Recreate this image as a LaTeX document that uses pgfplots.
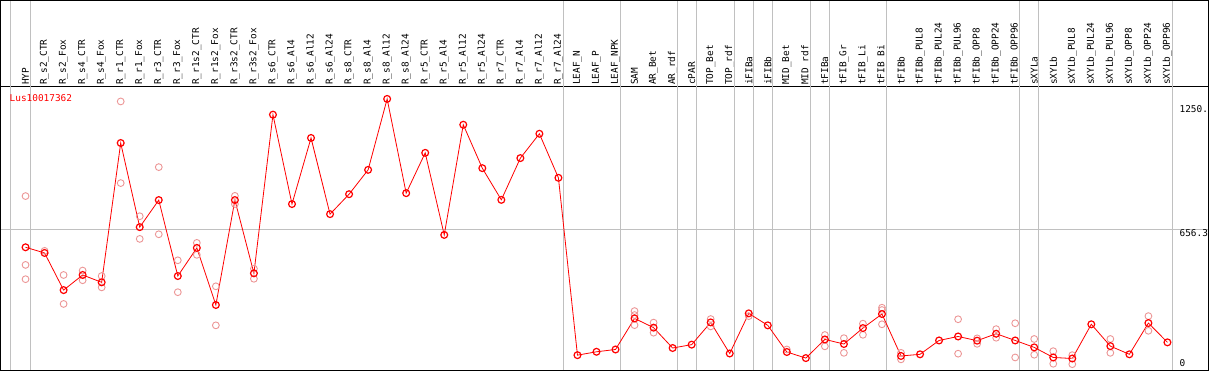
\documentclass[border=0pt]{standalone}
\usepackage{fontspec}
\usepackage{pgfplots}
\pgfplotsset{compat=1.18}
\newfontfamily\pix{DejaVu Sans Mono}
\newcommand{\pixfont}{\pix\fontsize{9.4}{10}\selectfont}
\definecolor{gridgray}{RGB}{192,192,192}
\definecolor{reppink}{RGB}{236,150,150}
\begin{document}
\begin{tikzpicture}
\begin{axis}[
  scale only axis, width=1206pt, height=283.5pt,
  xmin=-1.316, xmax=62.158, ymin=-14.3, ymax=1338.9,
  axis line style={black, line width=1pt},
  xtick={0,...,60},
  xticklabels={HYP,R\_s2\_CTR,R\_s2\_Fox,R\_s4\_CTR,R\_s4\_Fox,R\_r1\_CTR,R\_r1\_Fox,R\_r3\_CTR,R\_r3\_Fox,R\_r1s2\_CTR,R\_r1s2\_Fox,R\_r3s2\_CTR,R\_r3s2\_Fox,R\_s6\_CTR,R\_s6\_Al4,R\_s6\_Al12,R\_s6\_Al24,R\_s8\_CTR,R\_s8\_Al4,R\_s8\_Al12,R\_s8\_Al24,R\_r5\_CTR,R\_r5\_Al4,R\_r5\_Al12,R\_r5\_Al24,R\_r7\_CTR,R\_r7\_Al4,R\_r7\_Al12,R\_r7\_Al24,LEAF\_N,LEAF\_P,LEAF\_NPK,SAM,AR\_Bet,AR\_rdf,cPAR,TOP\_Bet,TOP\_rdf,iFIBa,iFIBb,MID\_Bet,MID\_rdf,tFIBa,tFIB\_Gr,tFIB\_Li,tFIB\_Bi,tFIBb,tFIBb\_PUL8,tFIBb\_PUL24,tFIBb\_PUL96,tFIBb\_OPP8,tFIBb\_OPP24,tFIBb\_OPP96,sXYLa,sXYLb,sXYLb\_PUL8,sXYLb\_PUL24,sXYLb\_PUL96,sXYLb\_OPP8,sXYLb\_OPP24,sXYLb\_OPP96},
  xticklabel pos=right,
  major tick length=0pt,
  xtick style={draw=none},
  xticklabel style={rotate=90, anchor=west, font=\pixfont, inner xsep=2pt, inner ysep=0pt, xshift=-1pt},
  ytick=\empty,
  clip=false,
]
% vertical separators
\pgfplotsinvokeforeach{-0.79,0.25,28.25,31.25,34.25,35.25,37.25,38.25,39.25,41.25,42.25,45.25,52.25,53.25,60.25}{
  \draw[gridgray, line width=1pt] (axis cs:#1,-14.3) -- (axis cs:#1,1747);
}
\draw[gridgray, line width=1pt] (axis cs:-1.316,656.3) -- (axis cs:62.158,656.3);
\draw[black, line width=1pt] (rel axis cs:0,0) rectangle (rel axis cs:1,1.3016);

% replicate values
\addplot[only marks, mark=o, mark size=3.4pt, reppink, mark options={line width=0.9pt}] coordinates {
(0,815) (0,487) (0,419)
(1,554)
(2,439) (2,301)
(3,460) (3,414)
(4,434) (4,380)
(5,877) (5,1266)
(6,719) (6,611)
(7,953) (7,633)
(8,509) (8,357)
(9,592) (9,535)
(10,385) (10,199)
(11,816) (11,777)
(12,469) (12,421)
(32,267) (32,248) (32,200)
(33,212) (33,164)
(36,229) (36,194)
(38,243)
(40,84)
(42,153) (42,99)
(43,138) (43,68)
(44,207) (44,154)
(45,283) (45,272) (45,204)
(46,68) (46,37)
(49,228) (49,64)
(50,137) (50,111)
(51,181) (51,140)
(52,209) (52,46)
(53,134) (53,59)
(54,76) (54,16)
(55,57) (55,14)
(57,134) (57,68)
(59,243) (59,173)
};

% mean values
\addplot[red, line width=0.8pt, mark=o, mark size=3.4pt, mark options={line width=1.2pt}] coordinates {
(0,571) (1,544) (2,367) (3,439) (4,404) (5,1068) (6,667) (7,796) (8,434) (9,568)
(10,296) (11,796) (12,447) (13,1203) (14,777) (15,1092) (16,729) (17,824) (18,940) (19,1278)
(20,829) (21,1021) (22,630) (23,1155) (24,948) (25,797) (26,996) (27,1112) (28,902) (29,57)
(30,73) (31,84) (32,232) (33,188) (34,91) (35,107) (36,213) (37,65) (38,256) (39,199)
(40,72) (41,43) (42,132) (43,110) (44,186) (45,253) (46,53) (47,61) (48,127) (49,146)
(50,126) (51,159) (52,127) (53,94) (54,46) (55,41) (56,204) (57,100) (58,61) (59,210)
(60,118)
};

\node[anchor=west, inner sep=0pt, red, font=\pixfont] at (axis cs:-0.842,1284) {Lus10017362};
\node[anchor=west, inner sep=0pt, font=\pixfont] at (axis cs:60.63,1231) {1250.};
\node[anchor=west, inner sep=0pt, font=\pixfont] at (axis cs:60.63,640) {656.3};
\node[anchor=west, inner sep=0pt, font=\pixfont] at (axis cs:60.63,19) {0};
\end{axis}
\end{tikzpicture}
\end{document}
